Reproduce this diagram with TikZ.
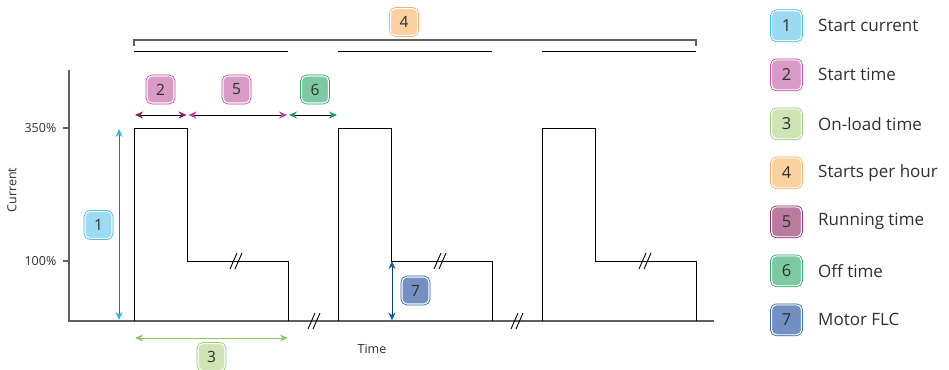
\documentclass[tikz,border=0pt]{standalone}
\usepackage{fontspec}
\setmainfont{Open Sans}
\usetikzlibrary{arrows.meta}
\definecolor{txt}{HTML}{303030}
\definecolor{axisgray}{HTML}{606060}
\definecolor{aFill}{HTML}{9CD9F3}\definecolor{aLine}{HTML}{2BB7E9}
\definecolor{bFill}{HTML}{D89BC6}\definecolor{bLine}{HTML}{C23C9C}
\definecolor{cFill}{HTML}{CFE4B5}\definecolor{cLine}{HTML}{8FC56A}
\definecolor{dFill}{HTML}{FBD19F}\definecolor{dLine}{HTML}{F5A85A}
\definecolor{eFill}{HTML}{B97C9F}\definecolor{eLine}{HTML}{8A1B5F}
\definecolor{fFill}{HTML}{7DC9A1}\definecolor{fLine}{HTML}{1E9E5E}
\definecolor{gFill}{HTML}{7290C2}\definecolor{gLine}{HTML}{1E5CA2}
\tikzset{
  badge/.style={rounded corners=5pt, minimum width=27pt, minimum height=27pt, inner sep=0pt,
    font=\fontsize{15.5}{15.5}\selectfont, text=txt, line width=1.1pt, draw=white,
    preaction={draw=#1Line, line width=2.6pt}, fill=#1Fill},
  lbadge/.style={badge=#1, minimum width=30pt, minimum height=30pt, font=\fontsize{16.5}{16.5}\selectfont},
  legtext/.style={anchor=west, inner sep=0pt, text=txt, font=\fontsize{17}{17}\selectfont},
  axislbl/.style={inner sep=0pt, text=txt, font=\fontsize{12.5}{12.5}\selectfont},
  axisline/.style={draw=axisgray, line width=1.3pt},
  pulse/.style={draw=black, line width=0.95pt},
  brkline/.style={draw=black, line width=0.9pt},
  dim/.style={line width=1pt, {Stealth[length=8pt,width=7pt]}-{Stealth[length=8pt,width=7pt]}},
}
\newcommand\breakmark[2]{%
  \draw[brkline] (#1-6,#2+8) -- (#1+1,#2-8);
  \draw[brkline] (#1-1,#2+8) -- (#1+6,#2-8);}
\begin{document}
\begin{tikzpicture}[x=1pt,y=-1pt]
\useasboundingbox (0,0) rectangle (949,369);
% axes
\coordinate (O) at (69,321);
\coordinate (Ytop) at (69,70);
\coordinate (Xend) at (714,321);
\draw[axisline] (Ytop) -- (O) -- (Xend);
\draw[axisline] (63,128) -- (69,128);
\draw[axisline] (63,261) -- (69,261);
\node[axislbl, anchor=east] (l350) at (56.5,128) {350\%};
\node[axislbl, anchor=east] (l100) at (56.5,261) {100\%};
\node[axislbl, rotate=90] (lcur) at (12,190) {Current};
\node[axislbl] (ltime) at (372,349) {Time};
% pulses
\foreach \s in {0,204,408}{
  \draw[pulse] (134+\s,321) -- (134+\s,128) -- (187.5+\s,128) -- (187.5+\s,261) -- (288+\s,261) -- (288+\s,321);
}
% break marks
\breakmark{236}{261}
\breakmark{440}{261}
\breakmark{645}{261}
\breakmark{314}{321}
\breakmark{517}{321}
% top bracket
\draw[axisline, line width=1.1pt] (134,46) -- (134,40) -- (696,40) -- (696,46);
\draw[pulse] (134,51) -- (288,51);
\draw[pulse] (338,51) -- (492,51);
\draw[pulse] (542,51) -- (696,51);
% badges in chart
\node[badge=d] (b4) at (404,22) {4};
\node[badge=b] (b2) at (160.5,89.5) {2};
\node[badge=b] (b5) at (236.5,89.5) {5};
\node[badge=f] (b6) at (315,89.5) {6};
\node[badge=a] (b1) at (98.5,225) {1};
\node[badge=c] (b3) at (211.5,357) {3};
\node[badge=g] (b7) at (415.5,290.5) {7};
% dimension arrows
\coordinate (a2s) at (135,115); \coordinate (a2e) at (186.5,115);
\coordinate (a5s) at (188.5,115); \coordinate (a5e) at (287,115);
\coordinate (a6s) at (289,115); \coordinate (a6e) at (337,115);
\coordinate (a1s) at (119,129); \coordinate (a1e) at (119,320);
\coordinate (a3s) at (135,338); \coordinate (a3e) at (288,338);
\coordinate (a7s) at (392,261); \coordinate (a7e) at (392,320.5);
\draw[dim, draw=black, {Stealth[length=8pt,width=7pt,eLine]}-{Stealth[length=8pt,width=7pt,eLine]}] (a2s) -- (a2e);
\draw[dim, draw=black, {Stealth[length=8pt,width=7pt,bLine]}-{Stealth[length=8pt,width=7pt,bLine]}] (a5s) -- (a5e);
\draw[dim, draw=black, {Stealth[length=8pt,width=7pt,fLine]}-{Stealth[length=8pt,width=7pt,fLine]}] (a6s) -- (a6e);
\draw[dim, draw=axisgray, {Stealth[length=8pt,width=7pt,aLine]}-{Stealth[length=8pt,width=7pt,aLine]}] (a1s) -- (a1e);
\draw[dim, draw=cLine] (a3s) -- (a3e);
\draw[dim, draw=gLine!70!black, {Stealth[length=8pt,width=7pt,gLine]}-{Stealth[length=8pt,width=7pt,gLine]}] (a7s) -- (a7e);
% legend
\foreach \n/\c/\t [count=\i from 0] in {1/a/Start current,2/b/Start time,3/c/On-load time,4/d/Starts per hour,5/e/Running time,6/f/Off time,7/g/Motor FLC}{
  \node[lbadge=\c] (k\n) at (786.5,25.8+49*\i) {\n};
  \node[legtext] (t\n) at (818,25.8+49*\i) {\t};
}
\end{tikzpicture}
\end{document}
